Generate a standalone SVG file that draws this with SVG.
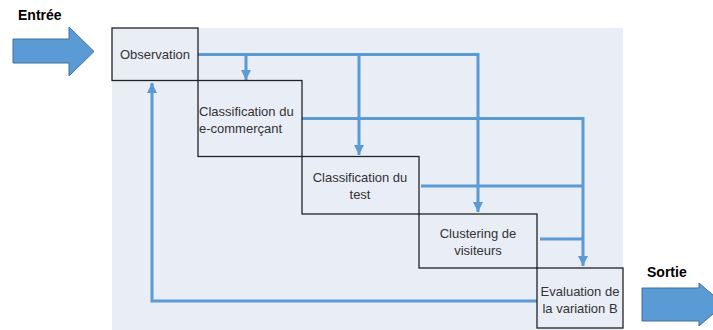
<svg xmlns="http://www.w3.org/2000/svg" width="713" height="330" viewBox="0 0 713 330">
<defs>
<style>
.box{fill:none;stroke:#222;stroke-width:1.3}
.lbl{font-family:"Liberation Sans",Arial,sans-serif;font-size:13px;fill:#333}
.io{font-family:"Liberation Sans",Arial,sans-serif;font-size:14px;font-weight:bold;fill:#000}
.big{fill:#5B9BD5;stroke:#41719C;stroke-width:1}
.con{fill:none;stroke:#5B9BD5;stroke-width:3}
</style>
<marker id="ah" viewBox="0 0 10 10" refX="10" refY="5" markerWidth="10" markerHeight="10" markerUnits="userSpaceOnUse" orient="auto">
<path d="M0,0 L10,5 L0,10 Z" fill="#5B9BD5"/>
</marker>
</defs>
<rect width="713" height="330" fill="#fff"/>
<rect x="112" y="28" width="511" height="302" fill="#E9EDF6"/>

<g id="entree">
<text class="io" x="18" y="20">Entrée</text>
<path class="big" d="M13,39 H69 V27 L94,51.5 L69,76 V63 H13 Z"/>
</g>
<g id="sortie">
<text class="io" x="647" y="277">Sortie</text>
<path class="big" d="M642,288 H699 V283 L724,304.5 L699,326 V321 H642 Z"/>
</g>

<g id="connectors">
<path class="con" d="M198,54.5 H478 V212" marker-end="url(#ah)"/>
<path class="con" d="M246,54.5 V80" marker-end="url(#ah)"/>
<path class="con" d="M359,54.5 V155" marker-end="url(#ah)"/>
<path class="con" d="M302,118.5 H583 V266" marker-end="url(#ah)"/>
<path class="con" d="M421,186 H583"/>
<path class="con" d="M540,239 H583"/>
<path class="con" d="M537,301 H152 V83" marker-end="url(#ah)"/>
</g>

<g id="observation">
<rect class="box" x="112" y="28" width="86" height="52.5"/>
<text class="lbl" x="155" y="59" text-anchor="middle">Observation</text>
</g>
<g id="classif-ecommercant">
<rect class="box" x="198" y="80.5" width="104" height="76"/>
<text class="lbl" x="199" y="116">Classification du</text>
<text class="lbl" x="199" y="133">e-commerçant</text>
</g>
<g id="classif-test">
<rect class="box" x="302" y="156.5" width="117" height="57.5"/>
<text class="lbl" x="360" y="182" text-anchor="middle">Classification du</text>
<text class="lbl" x="360" y="199" text-anchor="middle">test</text>
</g>
<g id="clustering">
<rect class="box" x="419" y="214" width="118" height="54"/>
<text class="lbl" x="478" y="238" text-anchor="middle">Clustering de</text>
<text class="lbl" x="478" y="255" text-anchor="middle">visiteurs</text>
</g>
<g id="evaluation">
<rect class="box" x="537" y="268" width="86" height="60"/>
<text class="lbl" x="580" y="296" text-anchor="middle">Evaluation de</text>
<text class="lbl" x="580" y="313" text-anchor="middle">la variation B</text>
</g>
</svg>
